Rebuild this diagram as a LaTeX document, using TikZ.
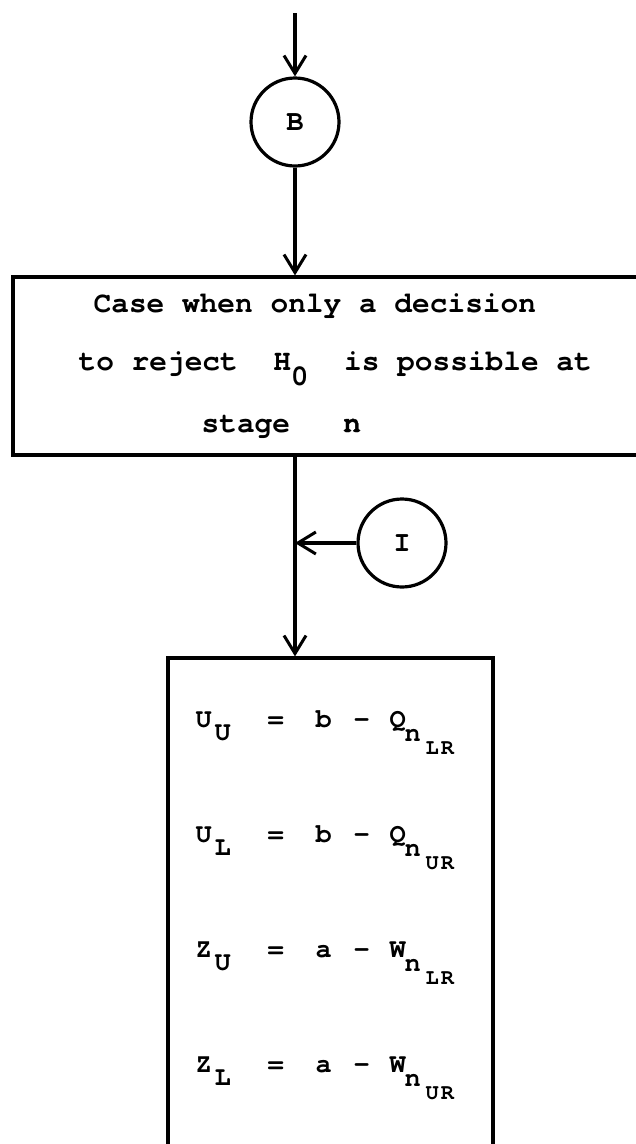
\documentclass[tikz,border=0pt]{standalone}
\usepackage{fontspec}
\newfontfamily\tw{texgyrecursor}[Extension=.otf, UprightFont=*-bold, BoldFont=*-bold, BoldFeatures={FakeBold=1.5}]
\usetikzlibrary{arrows.meta}
\newcommand\eqline[7]{%
  \node[eq] (lhs#1) at (194,#2) {#3};
  \node[eq] (lsub#1) at (213,#2+13) {#4};
  \node[eq] (eq#1) at (266,#2) {=};
  \node[eq] (c#1) at (314,#2) {#5};
  \node[eq] (m#1) at (352,#2) {-};
  \node[eq] (f#1) at (388,#2) {#6};
  \node[eqn] (n#1) at (403,#2+14) {n};
  \node[eqs] (s#1) at (424,#2+27) {#7};
}
\begin{document}
\begin{tikzpicture}[x=1pt,y=-1pt,
  line width=3.2pt,
  arr/.style={-{Straight Barb[length=18pt,width=22pt,line width=3pt]}},
  circ/.style={draw,circle,minimum size=88pt,inner sep=0pt,font=\tw\fontsize{29}{29}\selectfont},
  frame/.style={draw,rectangle,inner sep=0pt},
  txt/.style={anchor=base west,inner sep=0pt,font=\tw\fontsize{29.5}{30}\selectfont},
  eq/.style={anchor=base west,inner sep=0pt,font=\tw\fontsize{27}{27}\selectfont},
  eqn/.style={anchor=base west,inner sep=0pt,font=\tw\fontsize{27}{27}\selectfont},
  eqs/.style={anchor=base west,inner sep=0pt,font=\tw\fontsize{22}{22}\selectfont},
]
\useasboundingbox (0,0) rectangle (635,1144);
\node[circ] (B) at (295,122) {B};
\coordinate (top) at (295,13);
\draw[arr] (top) -- (B);
\node[frame,minimum width=660pt,minimum height=178pt] (box1) at (343,366) {};
\draw[arr] (B) -- (B |- box1.north);
\node[frame,minimum width=325pt,minimum height=512pt] (box2) at (330.5,914) {};
\node[circ] (I) at (402,543) {I};
\coordinate (J) at (295,543);
\draw[arr] (B |- box1.south) -- (B |- box2.north);
\draw[arr] (I) -- (J);
\node[txt] (t1) at (92,312) {Case when only a decision};
\node[txt] (t2) at (77,370) {to reject\ \ H\raisebox{-15pt}{0}\ \ is possible at};
\node[txt] (t3) at (200,432) {stage\ \ \ {\bfseries n}};
\eqline{1}{727}{U}{U}{b}{Q}{L\kern2pt R}
\eqline{2}{842}{U}{L}{b}{Q}{U\kern2pt R}
\eqline{3}{957}{Z}{U}{a}{W}{L\kern2pt R}
\eqline{4}{1072}{Z}{L}{a}{W}{U\kern2pt R}
\end{tikzpicture}
\end{document}
